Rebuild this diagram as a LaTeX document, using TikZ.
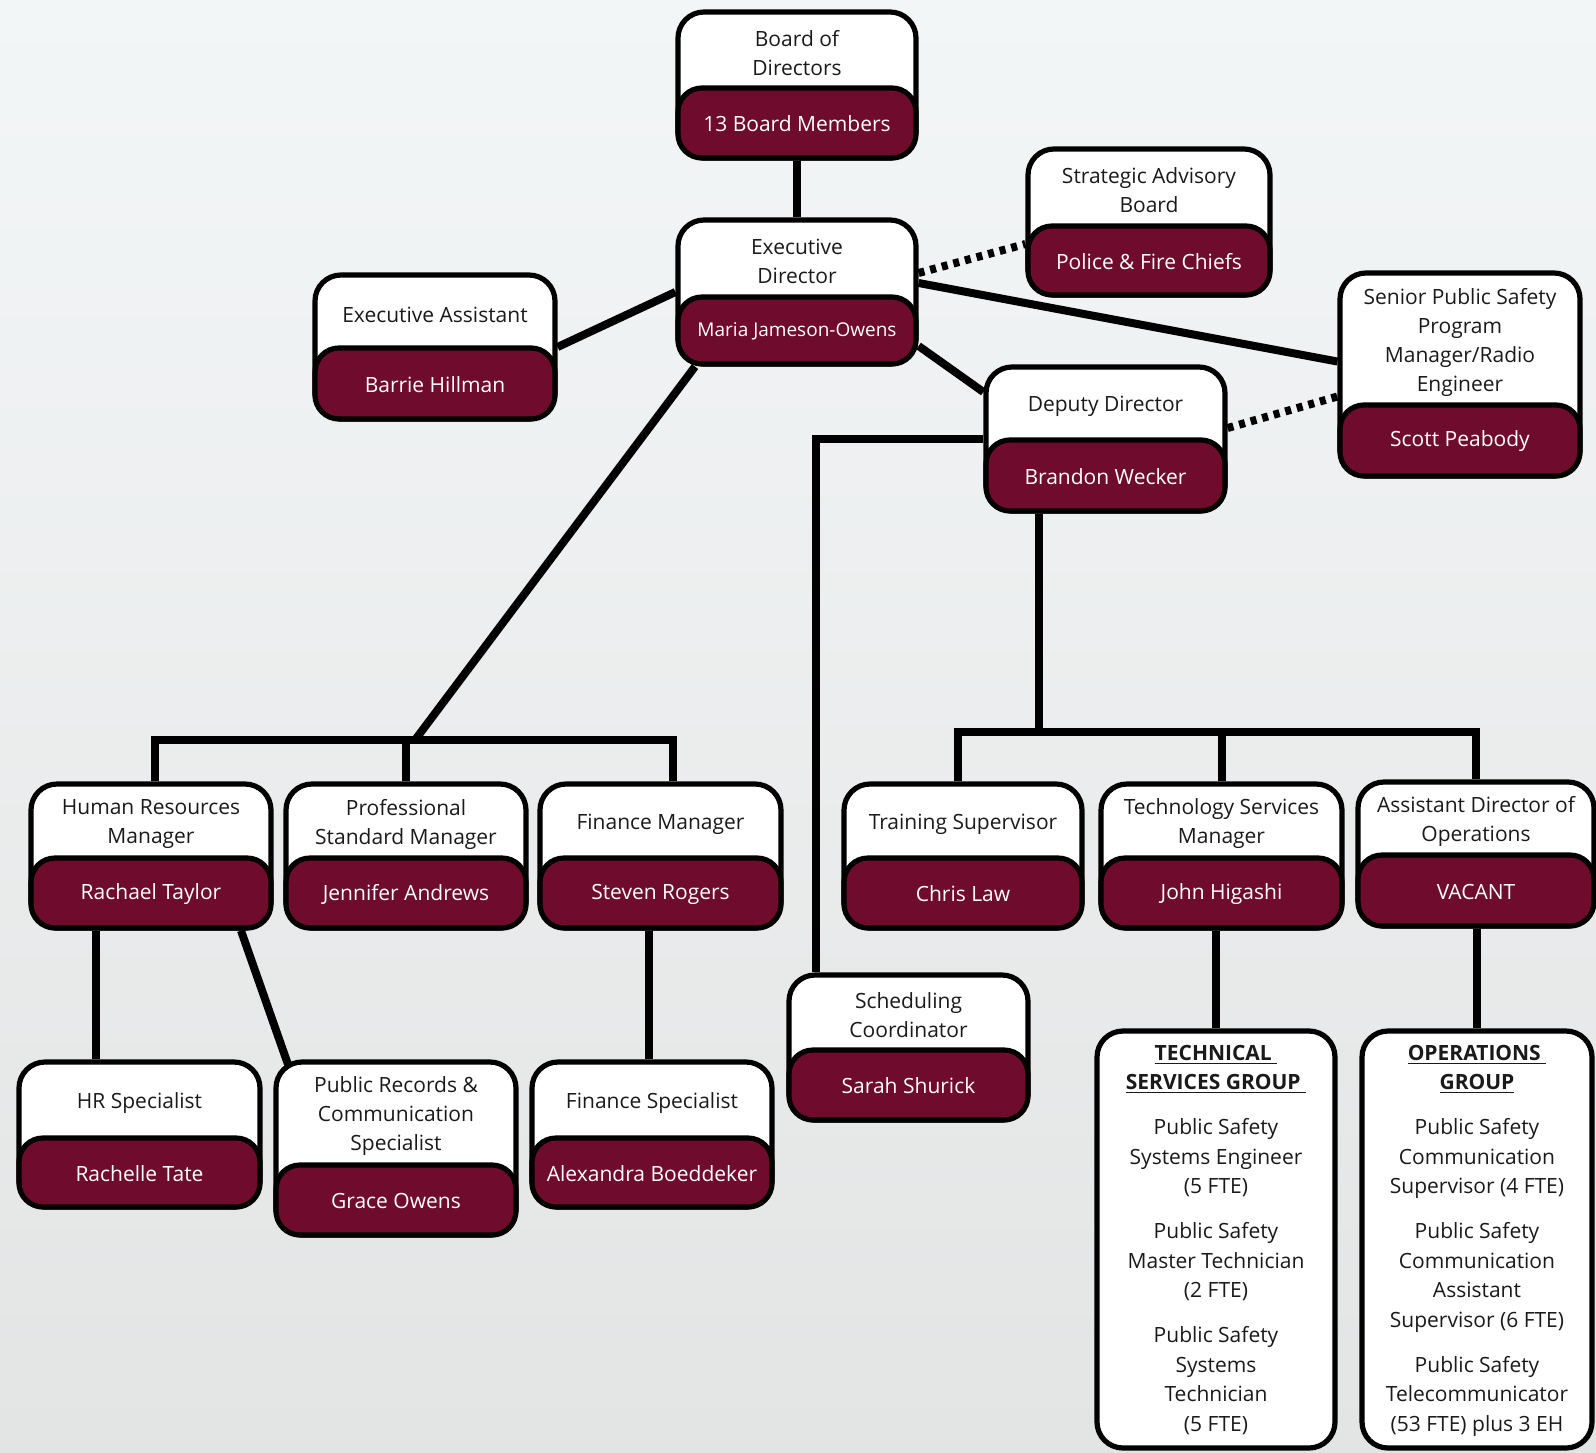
\documentclass[tikz,border=0pt]{standalone}
\usepackage{fontspec}
\setmainfont{Open Sans}
\usetikzlibrary{fit,calc}
\definecolor{brandred}{HTML}{6F0B2D}
\definecolor{inkc}{HTML}{1A1A1A}
\definecolor{bgtop}{HTML}{F3F6F7}
\definecolor{bgbot}{HTML}{E3E4E4}
\pgfdeclarelayer{bg}
\pgfdeclarelayer{lines}
\pgfsetlayers{bg,lines,main}
\tikzset{
 outerbox/.style={draw=black, line width=2.6pt, fill=white, rounded corners=13pt, inner sep=0pt},
 namebox/.style={draw=black, line width=2.6pt, fill=brandred, rounded corners=12pt, inner sep=0pt},
 titletxt/.style={text=inkc, font=\fontsize{10.5}{14.5}\selectfont, align=center, inner sep=0pt},
 nametxt/.style={text=white, font=\fontsize{10.5}{14.5}\selectfont, align=center, inner sep=0pt},
 grouptxt/.style={text=inkc, font=\fontsize{10.5}{14.75}\selectfont, align=center, inner sep=0pt},
 conn/.style={line width=4pt, draw=black},
 dotconn/.style={line width=4pt, draw=black, dash pattern=on 3pt off 3pt},
}
\newcommand\orgbox[8]{%
 \node[outerbox, fit={(#2,#3) (#4,#5)}] (#1) {};
 \node[namebox, fit={(#2,#6) (#4,#5)}] (#1n) {};
 \node[titletxt] (#1t) at ($(#2,#3)!0.5!(#4,#6)+(0,3)$) {#7};
 \node[nametxt] (#1p) at ($(#2,#6)!0.5!(#4,#5)+(0,1)$) {#8};
}
\begin{document}
\begin{tikzpicture}[x=0.5pt, y=-0.5pt]
\useasboundingbox (0,0) rectangle (1596,1452);
\begin{pgfonlayer}{bg}
\fill[top color=bgtop, bottom color=bgbot] (0,0) rectangle (1596,1452);
\end{pgfonlayer}

\orgbox{board}{678}{12}{916}{158}{88}{Board of\\Directors}{13 Board Members}
\orgbox{ed}{678}{220}{916}{364}{297}{Executive\\Director}{{\fontsize{9.5}{12}\selectfont Maria Jameson-Owens}}
\orgbox{sab}{1028}{149}{1270}{295}{226}{Strategic Advisory\\Board}{Police \& Fire Chiefs}
\orgbox{ea}{315}{275}{555}{419}{348}{Executive Assistant}{Barrie Hillman}
\orgbox{sp}{1340}{273}{1580}{476}{405}{Senior Public Safety\\Program\\Manager/Radio\\Engineer}{Scott Peabody}
\orgbox{dd}{986}{367}{1225}{511}{440}{Deputy Director}{Brandon Wecker}
\orgbox{hr}{31}{784}{271}{928}{858}{Human Resources\\Manager}{Rachael Taylor}
\orgbox{pm}{286}{784}{526}{928}{858}{Professional\\Standard Manager}{Jennifer Andrews}
\orgbox{fm}{540}{784}{781}{928}{858}{Finance Manager}{Steven Rogers}
\orgbox{tr}{844}{784}{1082}{928}{858}{Training Supervisor}{Chris Law}
\orgbox{ts}{1101}{784}{1342}{928}{858}{Technology Services\\Manager}{John Higashi}
\orgbox{as}{1358}{782}{1594}{926}{855}{Assistant Director of\\Operations}{VACANT}
\orgbox{sc}{789}{975}{1028}{1120}{1050}{Scheduling\\Coordinator}{Sarah Shurick}
\orgbox{hs}{19}{1062}{260}{1207}{1138}{HR Specialist}{Rachelle Tate}
\orgbox{pr}{276}{1062}{516}{1235}{1165}{Public Records \&\\Communication\\Specialist}{Grace Owens}
\orgbox{fs}{532}{1062}{772}{1207}{1138}{Finance Specialist}{Alexandra Boeddeker}

\node[outerbox, fit={(1097,1031) (1335,1448)}] (tsg) {};
\node[outerbox, fit={(1362,1031) (1592,1448)}] (og) {};
\node[grouptxt, anchor=north] (tsgt) at ($(tsg.north)+(0,16)$) {%
{\bfseries\underline{TECHNICAL\ }}\\{\bfseries\underline{SERVICES GROUP\ }}\\[7.75pt]
Public Safety\\Systems Engineer\\(5 FTE)\\[7.75pt]
Public Safety\\Master Technician\\(2 FTE)\\[7.75pt]
Public Safety\\Systems\\Technician\\(5 FTE)};
\node[grouptxt, anchor=north] (ogt) at ($(og.north)+(0,16)$) {%
{\bfseries\underline{OPERATIONS\ }}\\{\bfseries\underline{GROUP}}\\[7.75pt]
Public Safety\\Communication\\Supervisor (4 FTE)\\[7.75pt]
Public Safety\\Communication\\Assistant\\Supervisor (6 FTE)\\[7.75pt]
Public Safety\\Telecommunicator\\(53 FTE) plus 3 EH};

\begin{pgfonlayer}{lines}
\draw[conn] (board.south) -- (ed.north);
\draw[conn] (ed.west) -- (ea.east);
\draw[dotconn] ([yshift=9.5pt]ed.east) -- ([yshift=-11pt]sab.west);
\draw[conn] ([yshift=4.5pt]ed.east) -- ([yshift=6.5pt]sp.west);
\draw[conn] ([yshift=-27pt]ed.east) -- ([yshift=23.5pt]dd.west);
\draw[dotconn] ([yshift=5.5pt]dd.east) -- ([yshift=-11pt]sp.west);
% left branch
\coordinate (lbus) at (415,740);
\coordinate (edl) at ([xshift=-51pt]ed.south);
\draw[conn] (edl) -- (lbus);
\coordinate (hrtop) at ([xshift=2pt]hr.north);
\coordinate (fmtop) at ([xshift=6pt]fm.north);
\draw[conn] (hrtop) |- (fmtop |- lbus) -- (fmtop);
\draw[conn] (pm.north) -- (pm.north |- lbus);
% right branch
\coordinate (rbus) at (1039,732);
\draw[conn] (dd.south -| rbus) -- (rbus);
\coordinate (trtop) at ([xshift=-2.5pt]tr.north);
\draw[conn] (trtop) |- (as.north |- rbus) -- (as.north);
\draw[conn] (ts.north) -- (ts.north |- rbus);
% scheduling
\coordinate (sctop) at ([xshift=-46.5pt]sc.north);
\draw[conn] (dd.west) -| (sctop);
% lower links
\coordinate (hrl) at ([xshift=-27.5pt]hr.south);
\draw[conn] (hrl) -- (hrl |- hs.north);
\coordinate (hrr) at ([xshift=45pt]hr.south);
\coordinate (prl) at ([xshift=-54pt,yshift=-2.5pt]pr.north);
\draw[conn] (hrr) -- (prl);
\coordinate (fml) at ([xshift=-6pt]fm.south);
\draw[conn] (fml) -- (fml |- fs.north);
\draw[conn] (tsg.north) -- (tsg.north |- ts.south);
\draw[conn] (og.north) -- (og.north |- as.south);
\end{pgfonlayer}
\end{tikzpicture}
\end{document}
